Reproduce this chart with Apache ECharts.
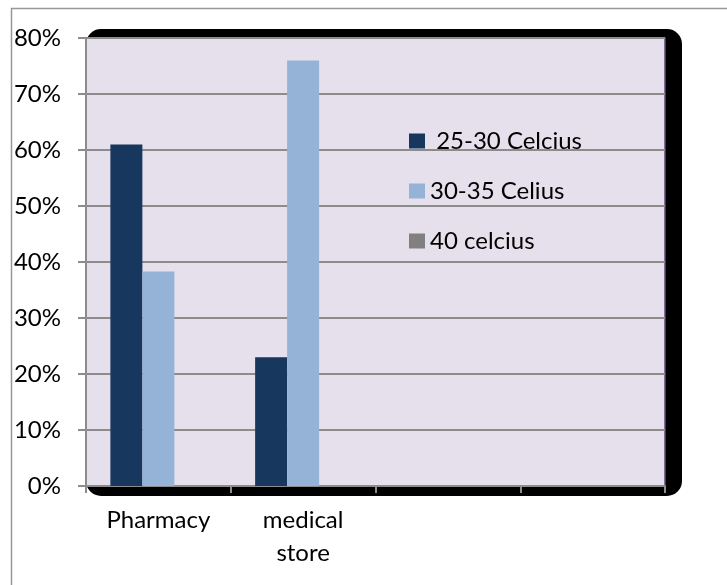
<!DOCTYPE html>
<html>
<head>
<meta charset="utf-8">
<script src="https://cdn.jsdelivr.net/npm/echarts@6/dist/echarts.min.js"></script>
<style>
  html, body { margin: 0; padding: 0; background: #ffffff; }
  #chart { width: 727px; height: 585px; }
</style>
</head>
<body>
<div id="chart"></div>
<script>
// Storage locations on the category axis (last two slots are unused)
const categories = ['Pharmacy', 'medical\nstore', ' ', '  '];

// Share of samples per temperature band, in percent
const seriesNames = [' 25-30 Celcius', '30-35 Celius', '40 celcius'];
const band25to30 = [61, 23, null, null];
const band30to35 = [38.3, 76, null, null];
const band40 = [0, 0, null, null];

// Value axis tick labels
const yTicks = ['0%', '10%', '20%', '30%', '40%', '50%', '60%', '70%', '80%'];

const colors = ['#17375e', '#95b3d7', '#808080'];
const font = 'Lato, "Noto Sans", sans-serif';

const chart = echarts.init(document.getElementById('chart'), null, { renderer: 'canvas' });

const gridLeft = 86, gridTop = 38, gridRight = 62, gridBottom = 99;

chart.setOption({
  animation: false,
  backgroundColor: '#ffffff',
  color: colors,
  graphic: [
    {
      type: 'rect', z: -10, silent: true,
      shape: { x: 11.5, y: 8.5, width: 900, height: 700 },
      style: { fill: 'none', stroke: '#979797', lineWidth: 1.5 }
    },
    {
      type: 'rect', z: -5, silent: true,
      shape: { x: gridLeft, y: 29, width: 596, height: 467, r: 15 },
      style: { fill: '#000000' }
    }
  ],
  grid: {
    left: gridLeft, top: gridTop, right: gridRight, bottom: gridBottom,
    show: true,
    backgroundColor: '#e5e0ec',
    borderColor: '#604a7b',
    borderWidth: 1.5
  },
  legend: {
    orient: 'vertical',
    left: 409, top: 129,
    padding: 0,
    itemWidth: 16, itemHeight: 15,
    itemGap: 26,
    icon: 'rect',
    data: seriesNames,
    textStyle: { fontFamily: font, fontSize: 24, color: '#000', lineHeight: 24 },
    itemStyle: { borderWidth: 0 }
  },
  xAxis: {
    type: 'category',
    data: categories,
    axisLine: { lineStyle: { color: '#8c8c8c', width: 2 } },
    axisTick: { show: true, length: 7, lineStyle: { color: '#8c8c8c', width: 2 } },
    axisLabel: {
      fontFamily: font, fontSize: 24, color: '#000',
      lineHeight: 33, margin: 18, interval: 0
    },
    splitLine: { show: false }
  },
  yAxis: {
    type: 'value',
    min: 0, max: 80, interval: 10,
    axisLine: { show: true, lineStyle: { color: '#8c8c8c', width: 2 } },
    axisTick: { show: true, length: 8, lineStyle: { color: '#8c8c8c', width: 2 } },
    axisLabel: {
      fontFamily: font, fontSize: 24, color: '#000', margin: 25,
      formatter: function (v) { return yTicks[Math.round(v / 10)]; }
    },
    splitLine: { show: true, lineStyle: { color: '#8c8c8c', width: 2 } }
  },
  series: [
    { name: seriesNames[0], type: 'bar', data: band25to30, barWidth: 32, barGap: '0%',
      itemStyle: { color: colors[0] } },
    { name: seriesNames[1], type: 'bar', data: band30to35, barWidth: 32, barGap: '0%',
      itemStyle: { color: colors[1] } },
    { name: seriesNames[2], type: 'bar', data: band40, barWidth: 32, barGap: '0%',
      itemStyle: { color: colors[2] } }
  ]
});
</script>
</body>
</html>
